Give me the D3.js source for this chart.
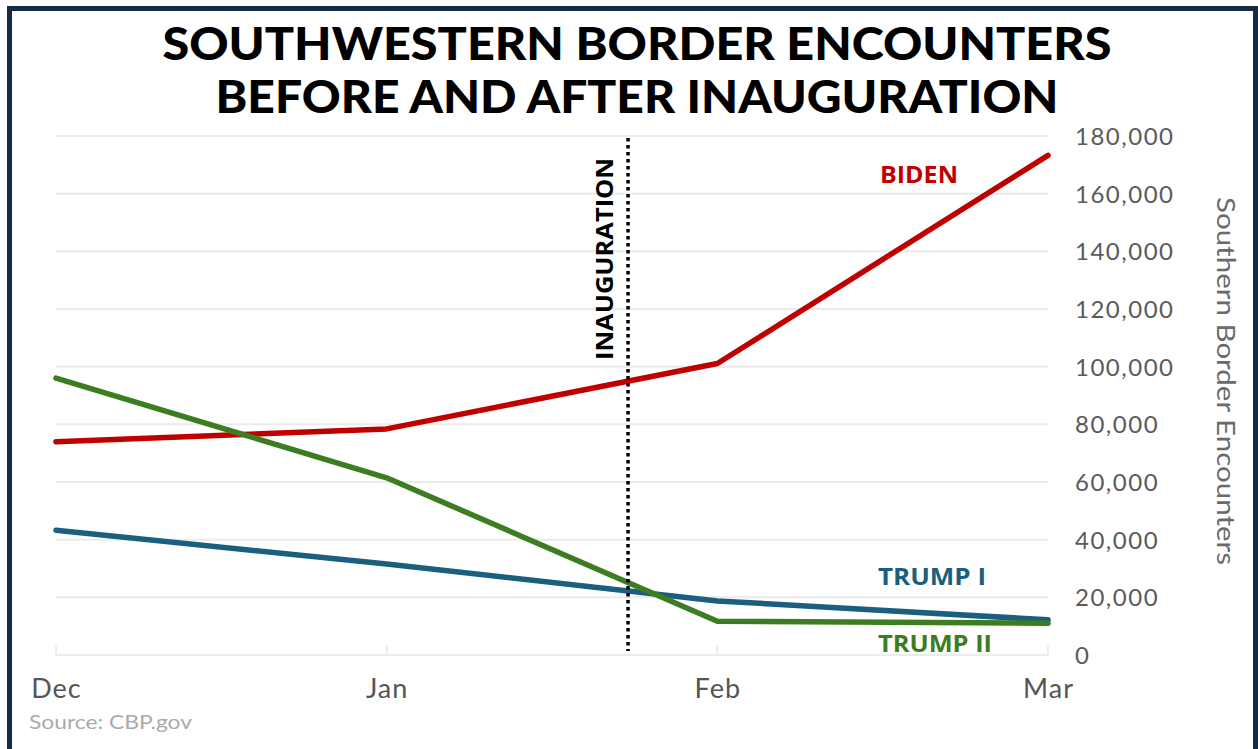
<!DOCTYPE html>
<html>
<head>
<meta charset="utf-8">
<script src="https://cdn.jsdelivr.net/npm/d3@7"></script>
<style>
  html, body { margin: 0; padding: 0; background: #fff; }
  svg { display: block; }
</style>
</head>
<body>
<svg id="chart" width="1258" height="749"></svg>
<script>
const months = ["Dec", "Jan", "Feb", "Mar"];
const biden = [73994, 78414, 101099, 173277];
const trump1 = [43251, 31575, 18762, 12193];
const trump2 = [96035, 61465, 11709, 11017];
const yTicks = [0, 20000, 40000, 60000, 80000, 100000, 120000, 140000, 160000, 180000];
const inaugurationPos = 1.73; // position in month index units
const titleLines = ["SOUTHWESTERN BORDER ENCOUNTERS", "BEFORE AND AFTER INAUGURATION"];

const svg = d3.select("#chart");
const W = 1258, H = 749;

// frame
svg.append("rect").attr("x", 9.5).attr("y", 8.5).attr("width", W - 9.5 - 2.5).attr("height", H + 20)
  .attr("fill", "#fff").attr("stroke", "#142a45").attr("stroke-width", 5);

const x = d3.scaleLinear().domain([0, months.length - 1]).range([56, 1048]);
const y = d3.scaleLinear().domain([0, 180000]).range([655, 136]);

// gridlines
svg.append("g").selectAll("line").data(yTicks).join("line")
  .attr("x1", 56).attr("x2", 1048)
  .attr("y1", d => y(d)).attr("y2", d => y(d))
  .attr("stroke", "#ebebeb").attr("stroke-width", 2);

// x ticks (small, upward)
svg.append("g").selectAll("line").data(months).join("line")
  .attr("x1", (d, i) => x(i)).attr("x2", (d, i) => x(i))
  .attr("y1", 655).attr("y2", 646)
  .attr("stroke", "#ebebeb").attr("stroke-width", 2);

// right axis labels
const yAxis = d3.axisRight(y).tickValues(yTicks).tickSize(0).tickPadding(0)
  .tickFormat(d3.format(","));
const ya = svg.append("g").attr("transform", "translate(1075,0)").call(yAxis);
ya.select(".domain").remove();
ya.selectAll("text").attr("font-family", "Lato, 'Open Sans', sans-serif")
  .attr("font-size", 24).attr("fill", "#5a5a5a").attr("dy", "0.35em")
  .attr("letter-spacing", 1.5);

// x axis labels
const xAxis = d3.axisBottom(x).tickValues(d3.range(months.length)).tickSize(0).tickPadding(0)
  .tickFormat(i => months[i]);
const xa = svg.append("g").attr("transform", "translate(0,679)").call(xAxis);
xa.select(".domain").remove();
xa.selectAll("text").attr("font-family", "Lato, 'Open Sans', sans-serif")
  .attr("font-size", 27).attr("fill", "#555").attr("dy", "0.71em")
  .attr("letter-spacing", 1);

// y axis title
svg.append("text")
  .attr("transform", "translate(1217,381) rotate(90)")
  .attr("text-anchor", "middle")
  .attr("font-family", "Lato, 'Open Sans', sans-serif")
  .attr("font-size", 25).attr("fill", "#6a6a6a")
  .attr("textLength", 368).attr("lengthAdjust", "spacingAndGlyphs")
  .text("Southern Border Encounters");

// lines
const line = d3.line().x((d, i) => x(i)).y(d => y(d));
const series = [
  { name: "BIDEN", values: biden, color: "#c00000" },
  { name: "TRUMP I", values: trump1, color: "#1b5f80" },
  { name: "TRUMP II", values: trump2, color: "#3c7d22" }
];
svg.append("g").selectAll("path").data(series).join("path")
  .attr("d", d => line(d.values))
  .attr("fill", "none").attr("stroke", d => d.color)
  .attr("stroke-width", 5.5).attr("stroke-linecap", "round").attr("stroke-linejoin", "round");

// inauguration line
svg.append("line")
  .attr("x1", x(inaugurationPos)).attr("x2", x(inaugurationPos))
  .attr("y1", 138).attr("y2", 651)
  .attr("stroke", "#000").attr("stroke-width", 3.5).attr("stroke-dasharray", "3.5,3.5");

svg.append("text")
  .attr("transform", `translate(${x(inaugurationPos) - 15},259) rotate(-90)`)
  .attr("text-anchor", "middle")
  .attr("font-family", "'Open Sans', Lato, sans-serif").attr("font-weight", 700)
  .attr("font-size", 23).attr("fill", "#000")
  .attr("textLength", 202).attr("lengthAdjust", "spacingAndGlyphs")
  .text("INAUGURATION");

// series labels
const labelPos = [
  { text: "BIDEN", x: 880, y: 183, len: 78, color: "#c00000" },
  { text: "TRUMP I", x: 878, y: 585, len: 108, color: "#1b5f80" },
  { text: "TRUMP II", x: 878, y: 652, len: 114, color: "#3c7d22" }
];
svg.append("g").selectAll("text").data(labelPos).join("text")
  .attr("x", d => d.x).attr("y", d => d.y)
  .attr("font-family", "'Open Sans', Lato, sans-serif").attr("font-weight", 700)
  .attr("font-size", 23).attr("fill", d => d.color)
  .attr("textLength", d => d.len).attr("lengthAdjust", "spacingAndGlyphs")
  .text(d => d.text);

// title
const titleLens = [949, 843];
svg.append("g").selectAll("text").data(titleLines).join("text")
  .attr("x", 637).attr("y", (d, i) => 60 + i * 53)
  .attr("text-anchor", "middle")
  .attr("font-family", "Lato, 'Open Sans', sans-serif").attr("font-weight", 900)
  .attr("font-size", 45).attr("fill", "#000")
  .attr("textLength", (d, i) => titleLens[i]).attr("lengthAdjust", "spacingAndGlyphs")
  .text(d => d);

// source
svg.append("text").attr("x", 29).attr("y", 729)
  .attr("font-family", "Lato, 'Open Sans', sans-serif")
  .attr("font-size", 19).attr("fill", "#aaa")
  .attr("textLength", 163).attr("lengthAdjust", "spacingAndGlyphs")
  .text("Source: CBP.gov");
</script>
</body>
</html>
